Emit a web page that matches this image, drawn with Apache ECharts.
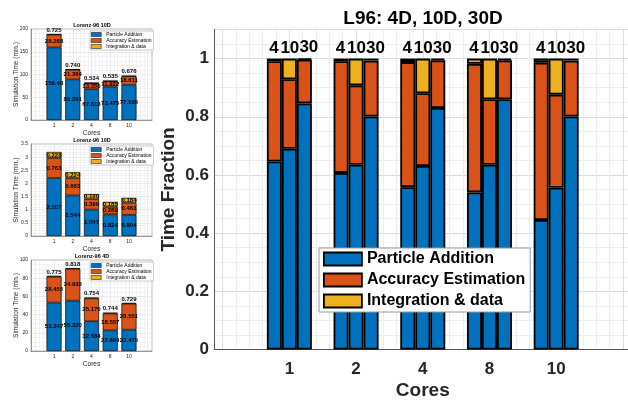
<!DOCTYPE html>
<html lang="en">
<head>
<meta charset="UTF-8">
<title>L96 timing</title>
<script src="https://cdn.jsdelivr.net/npm/echarts@6/dist/echarts.min.js"></script>
<style>
    body { margin: 0; padding: 0; overflow: hidden; background: #fff; }
    #chart { width: 628px; height: 401px; }
</style>
</head>
<body>
<div id="chart"></div>
<script>
    // categories
    const cores = ['1', '2', '4', '8', '10'];
    const dims = ['4', '10', '30'];
    const parts = ['Particle Addition', 'Accuracy Estimation', 'Integration & data'];

    // big panel: time fraction per dimension
    const frac4DParticle = [0.646, 0.607, 0.558, 0.540, 0.445];
    const frac4DAccuracy = [0.345, 0.384, 0.430, 0.442, 0.541];
    const frac4DIntegration = [0.009, 0.009, 0.012, 0.018, 0.014];
    const frac10DParticle = [0.690, 0.635, 0.631, 0.635, 0.556];
    const frac10DAccuracy = [0.239, 0.273, 0.250, 0.225, 0.320];
    const frac10DIntegration = [0.071, 0.092, 0.119, 0.140, 0.124];
    const frac30DParticle = [0.846, 0.801, 0.830, 0.860, 0.801];
    const frac30DAccuracy = [0.150, 0.192, 0.164, 0.134, 0.192];
    const frac30DIntegration = [0.004, 0.007, 0.006, 0.006, 0.007];

    // small panels: simulation time (min.)
    const time30DParticle = [159.48, 89.201, 67.613, 73.475, 77.595];
    const time30DAccuracy = [28.268, 21.364, 13.350, 11.922, 18.611];
    const time30DIntegration = [0.725, 0.740, 0.534, 0.535, 0.676];
    const time10DParticle = [2.207, 1.544, 1.007, 0.824, 0.804];
    const time10DAccuracy = [0.763, 0.663, 0.399, 0.289, 0.463];
    const time10DIntegration = [0.228, 0.224, 0.190, 0.185, 0.184];
    const time4DParticle = [53.247, 55.320, 32.684, 22.684, 23.475];
    const time4DAccuracy = [28.455, 34.933, 25.170, 18.557, 28.551];
    const time4DIntegration = [0.775, 0.818, 0.754, 0.744, 0.729];

    const colors = ['#0072BD', '#D95319', '#EDB120'];
    const FONT = 'Liberation Sans';
    const INK = '#262626';
    const MAJOR = '#dcdcdc';
    const MINOR = '#ededed';

    const grids = [], xAxes = [], yAxes = [], series = [], legends = [], graphics = [];
    // axis slots: one empty slot each side of the five core counts
    const slots = [''].concat(cores, ['']);

    function fmt(v) {
        return v >= 100 ? v.toFixed(2) : v.toFixed(3);
    }

    function addGrid(g) {
        grids.push(Object.assign({outerBoundsMode: 'none', containLabel: false}, g));
    }

    // three stacked grids per panel:
    //   gi     frame  (y labels, axis lines, horizontal grid)
    //   gi+1   vertical grid lines (0..6, minor every 0.2)
    //   gi+2   bars on a category axis
    function panel(p) {
        const gi = p.gi;
        const innerLeft = p.left + p.pad * p.unit;
        const innerWidth = 6 * p.unit;
        const font = {color: INK, fontFamily: FONT};

        addGrid(Object.assign({left: p.left, top: p.top, width: p.width, height: p.height}, p.frameStyle || {}));
        xAxes.push({
            gridIndex: gi, type: 'value', min: -p.pad, max: 6 + p.pad,
            axisLine: {show: true, onZero: false, lineStyle: {color: p.axisColor, width: p.lw}},
            axisTick: {show: false}, axisLabel: {show: false}, splitLine: {show: false}
        });
        yAxes.push({
            gridIndex: gi, type: 'value', min: 0, max: p.yMax, interval: p.yInt,
            axisLine: {show: true, onZero: false, lineStyle: {color: p.axisColor, width: p.lw}},
            axisTick: {show: false},
            axisLabel: Object.assign({
                formatter: v => v > p.yMax - p.yInt / 2 && p.hideTop ? '' : String(Number(v.toFixed(2))),
                fontSize: p.tickSize, fontWeight: p.weight, margin: p.labelMargin
            }, font),
            splitLine: {show: true, lineStyle: {color: MAJOR, width: p.lw}},
            minorTick: {show: false, splitNumber: p.yMinor},
            minorSplitLine: {show: true, lineStyle: {color: MINOR, width: p.lw}},
            name: p.yName, nameLocation: 'middle', nameGap: p.yNameGap, nameMoveOverlap: false,
            nameTextStyle: Object.assign({fontSize: p.nameSize, fontWeight: p.weight}, font)
        });

        addGrid({left: innerLeft, top: p.top, width: innerWidth, height: p.height});
        xAxes.push({
            gridIndex: gi + 1, type: 'value', min: 0, max: 6, interval: 1,
            axisLine: {show: false}, axisTick: {show: false}, axisLabel: {show: false},
            splitLine: {show: true, lineStyle: {color: MAJOR, width: p.lw}},
            minorTick: {show: false, splitNumber: 5},
            minorSplitLine: {show: true, lineStyle: {color: MINOR, width: p.lw}}
        });
        yAxes.push({gridIndex: gi + 1, type: 'value', min: 0, max: 1, show: false, splitLine: {show: false}});

        addGrid({left: innerLeft, top: p.top, width: innerWidth, height: p.height});
        xAxes.push({
            gridIndex: gi + 2, type: 'category', data: slots, boundaryGap: false,
            axisLine: {show: false}, axisTick: {show: false}, splitLine: {show: false},
            axisLabel: Object.assign({fontSize: p.tickSize, fontWeight: p.weight, margin: p.xMargin, interval: 0}, font),
            name: 'Cores', nameLocation: 'middle', nameGap: p.xNameGap, nameMoveOverlap: false,
            nameTextStyle: Object.assign({fontSize: p.xNameSize, fontWeight: p.weight}, font)
        });
        yAxes.push({
            gridIndex: gi + 2, type: 'value', min: 0, max: p.yMax,
            show: false, splitLine: {show: false}
        });
    }

    // ---------- main panel ----------
    const U = 66.7;
    panel({
        gi: 0, left: 214, top: 29.5, width: 6.26 * U, height: 320, unit: U, pad: 0.13,
        yMax: 1.1, yInt: 0.2, yMinor: 4, hideTop: true,
        axisColor: '#555', lw: 1, tickSize: 17, weight: 'bold', labelMargin: 5, xMargin: 11,
        yName: 'Time Fraction', yNameGap: 36, nameSize: 19, xNameGap: 32, xNameSize: 19
    });

    const mainSets = [
        [frac4DParticle, frac4DAccuracy, frac4DIntegration],
        [frac10DParticle, frac10DAccuracy, frac10DIntegration],
        [frac30DParticle, frac30DAccuracy, frac30DIntegration]
    ];
    const topLabelShift = [[-0.5, 0], [0.5, 0], [4.5, 0]];
    mainSets.forEach((set, k) => {
        set.forEach((arr, j) => {
            series.push({
                type: 'bar', name: parts[j], xAxisIndex: 2, yAxisIndex: 2,
                stack: 'main' + k, barWidth: 15, barGap: '0%',
                data: arr.map((v, i) => [i + 1, v]),
                itemStyle: {color: colors[j], borderColor: '#000', borderWidth: 1.8},
                label: j === 2 ? {
                    show: true, position: 'top', distance: 2, offset: topLabelShift[k],
                    formatter: dims[k],
                    fontSize: 17, fontWeight: 'bold', color: '#000', fontFamily: FONT
                } : {show: false},
                emphasis: {disabled: true}
            });
        });
    });

    legends.push({
        left: 319, top: 248, orient: 'vertical', icon: 'rect', selectedMode: false,
        itemWidth: 38, itemHeight: 13, itemGap: 5,
        padding: [3, 5, 3, 4],
        backgroundColor: '#fff', borderColor: '#999', borderWidth: 1,
        itemStyle: {borderColor: '#000', borderWidth: 1.8},
        textStyle: {fontSize: 16, fontWeight: 'bold', color: '#000', fontFamily: FONT},
        data: parts, z: 10
    });

    graphics.push({
        type: 'text', x: 423, y: 19, z: 10,
        style: {text: 'L96: 4D, 10D, 30D', fill: '#000', font: 'bold 19px "Liberation Sans"',
            align: 'center', verticalAlign: 'middle'}
    });

    // ---------- small panels ----------
    const SU = 121 / 6.46;
    function smallPanel(gi, top, height, yMax, yInt, yMinor, title, sets, yellowInside) {
        panel({
            gi: gi, left: 31, top: top, width: 121, height: height, unit: SU, pad: 0.23,
            frameStyle: {show: true, borderColor: '#8a8a8a', borderWidth: 0.6},
            yMax: yMax, yInt: yInt, yMinor: yMinor, hideTop: false,
            axisColor: '#666', lw: 0.6, tickSize: 5, weight: 'normal', labelMargin: 3, xMargin: 3,
            yName: 'Simulation Time (min.)', yNameGap: 11, nameSize: 6.5, xNameGap: 10, xNameSize: 6.5
        });

        sets.forEach((arr, j) => {
            let label = {
                show: true, position: 'inside', formatter: p => fmt(p.value[1]),
                fontSize: 6, fontWeight: 'bold', color: '#000', fontFamily: FONT
            };
            if (j === 2 && !yellowInside) {
                label = Object.assign({}, label, {position: 'top', distance: 1});
            }
            series.push({
                type: 'bar', name: parts[j], xAxisIndex: gi + 2, yAxisIndex: gi + 2,
                stack: 'small' + gi, barWidth: 15,
                data: arr.map((v, i) => [i + 1, v]),
                itemStyle: {color: colors[j], borderColor: '#000', borderWidth: 0.7},
                label: label,
                emphasis: {disabled: true}
            });
        });

        legends.push({
            left: 90, top: top + 2, orient: 'vertical', icon: 'rect', selectedMode: false,
            itemWidth: 10, itemHeight: 4, itemGap: 1,
            padding: [1, 2, 1, 1],
            backgroundColor: '#fff', borderColor: '#999', borderWidth: 0.5,
            itemStyle: {borderColor: '#000', borderWidth: 0.5},
            textStyle: {fontSize: 5, color: '#000', fontFamily: FONT},
            data: parts, z: 10
        });

        graphics.push({
            type: 'text', x: 92, y: top - 4, z: 10,
            style: {text: title, fill: '#000', font: 'bold 5.5px "Liberation Sans"',
                align: 'center', verticalAlign: 'middle'}
        });
    }

    smallPanel(3, 29, 91, 200, 50, 5, 'Lorenz-96 10D',
        [time30DParticle, time30DAccuracy, time30DIntegration], false);
    smallPanel(6, 144, 92, 3.5, 0.5, 5, 'Lorenz-96 10D',
        [time10DParticle, time10DAccuracy, time10DIntegration], true);
    smallPanel(9, 260, 91, 100, 20, 4, 'Lorenz-96 4D',
        [time4DParticle, time4DAccuracy, time4DIntegration], false);

    const chart = echarts.init(document.getElementById('chart'), null, {renderer: 'canvas'});
    chart.setOption({
        backgroundColor: '#fff',
        animation: false,
        grid: grids,
        xAxis: xAxes,
        yAxis: yAxes,
        legend: legends,
        graphic: graphics,
        series: series
    });
</script>
</body>
</html>
